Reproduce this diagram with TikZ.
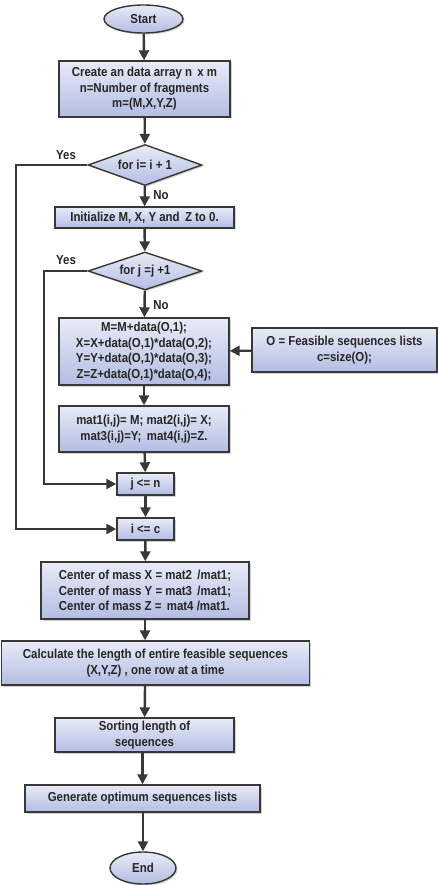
\documentclass[tikz,border=0pt]{standalone}
\usepackage{fontspec}
\setmainfont{Liberation Sans}[FakeStretch=0.88]
\usetikzlibrary{positioning,calc,arrows.meta,shapes.geometric,shadows}
\tikzset{font=\bfseries\fontsize{13}{15.5}\selectfont}
\definecolor{boxtop}{HTML}{E8EBF7}
\definecolor{boxbot}{HTML}{B3BDE3}
\definecolor{edge}{HTML}{383838}

\begin{document}
\begin{tikzpicture}[x=1pt,y=-1pt]
	\useasboundingbox (0,0) rectangle (438,885);
	\begin{scope}
		\tikzstyle{every node}=[align=center, inner sep=1pt, text=black!85]
		\tikzstyle{blk}=[draw=edge, line width=1.4pt, top color=boxtop, bottom color=boxbot, drop shadow={shadow xshift=1.5pt, shadow yshift=-1.5pt, fill=black!35}]
		\tikzstyle{term}=[blk, ellipse, inner sep=0pt]
		\tikzstyle{dec}=[blk, diamond, aspect=2.8, inner sep=0pt]
		\tikzstyle{flow}=[draw=edge, line width=2.4pt, -{Triangle[length=10pt,width=10pt]}]

		\node[term, minimum width=79, minimum height=28] (start) at (143.5, 19) {Start};
		\node[blk, minimum width=171, minimum height=56] (create) at (144.5, 89) {Create an data array n\, x m\\ n=Number of fragments\\ m=(M,X,Y,Z)};
		\node[dec, minimum width=114, minimum height=41] (fori) at (145, 165) {for i= i + 1};
		\node[blk, minimum width=179, minimum height=21] (init) at (144.5, 217.5) {Initialize M, X, Y and\, Z to 0.};
		\node[dec, minimum width=114, minimum height=38] (forj) at (145, 271) {for j =j +1};
		\node[blk, minimum width=170, minimum height=67] (sums) at (144, 351.5) {M=M+data(O,1);\\ X=X+data(O,1)*data(O,2);\\ Y=Y+data(O,1)*data(O,3);\\ Z=Z+data(O,1)*data(O,4);};
		\node[blk, minimum width=185, minimum height=44] (feas) at (344.5, 350) {O = Feasible sequences lists\\ c=size(O);};
		\node[blk, minimum width=170, minimum height=46] (mats) at (144, 429) {mat1(i,j)= M; mat2(i,j)= X;\\ mat3(i,j)=Y;\, mat4(i,j)=Z.};
		\node[blk, minimum width=57, minimum height=22] (jn) at (145.5, 484) {j <= n};
		\node[blk, minimum width=57, minimum height=22] (ic) at (145.5, 529) {i <= c};
		\node[blk, minimum width=208, minimum height=57, align=left] (com) at (145, 590.5) {Center of mass X = mat2\, /mat1;\\ Center of mass Y = mat3\, /mat1;\\ Center of mass Z = \,mat4 /mat1.};
		\node[blk, minimum width=308, minimum height=44] (calc) at (155.5, 663) {Calculate the length of entire feasible sequences\\ (X,Y,Z) , one row at a time};
		\node[blk, minimum width=179, minimum height=34] (sort) at (144.5, 735) {Sorting length of\\ sequences};
		\node[blk, minimum width=235, minimum height=27] (gen) at (142.5, 798.5) {Generate optimum sequences lists};
		\node[term, minimum width=66, minimum height=32] (end) at (143, 868) {End};

		\node (yes1) at (66, 155) {Yes};
		\node (no1) at (161, 195) {No};
		\node (yes2) at (66, 260) {Yes};
		\node (no2) at (161, 305) {No};

		\draw [flow] (start) to (create);
		\draw [flow] (create) to (fori);
		\draw [flow] (fori) to (init);
		\draw [flow] (init) to (forj);
		\draw [flow] (forj) to (sums);
		\draw [flow] (sums) to (mats);
		\draw [flow] (mats) to (jn);
		\draw [flow] (jn) to (ic);
		\draw [flow] (ic) to (com);
		\draw [flow] (com) to (calc.north -| com);
		\draw [flow] (calc.south -| com) to (sort);
		\draw [flow] (sort.south -| gen) to (gen);
		\draw [flow] (gen.south -| end) to (end);
		\draw [flow] (feas) to (sums);
		\draw [flow] (fori.west) -| (16, 529) -- (ic.west);
		\draw [flow] (forj.west) -| (44, 484) -- (jn.west);
	\end{scope}
\end{tikzpicture}
\end{document}
